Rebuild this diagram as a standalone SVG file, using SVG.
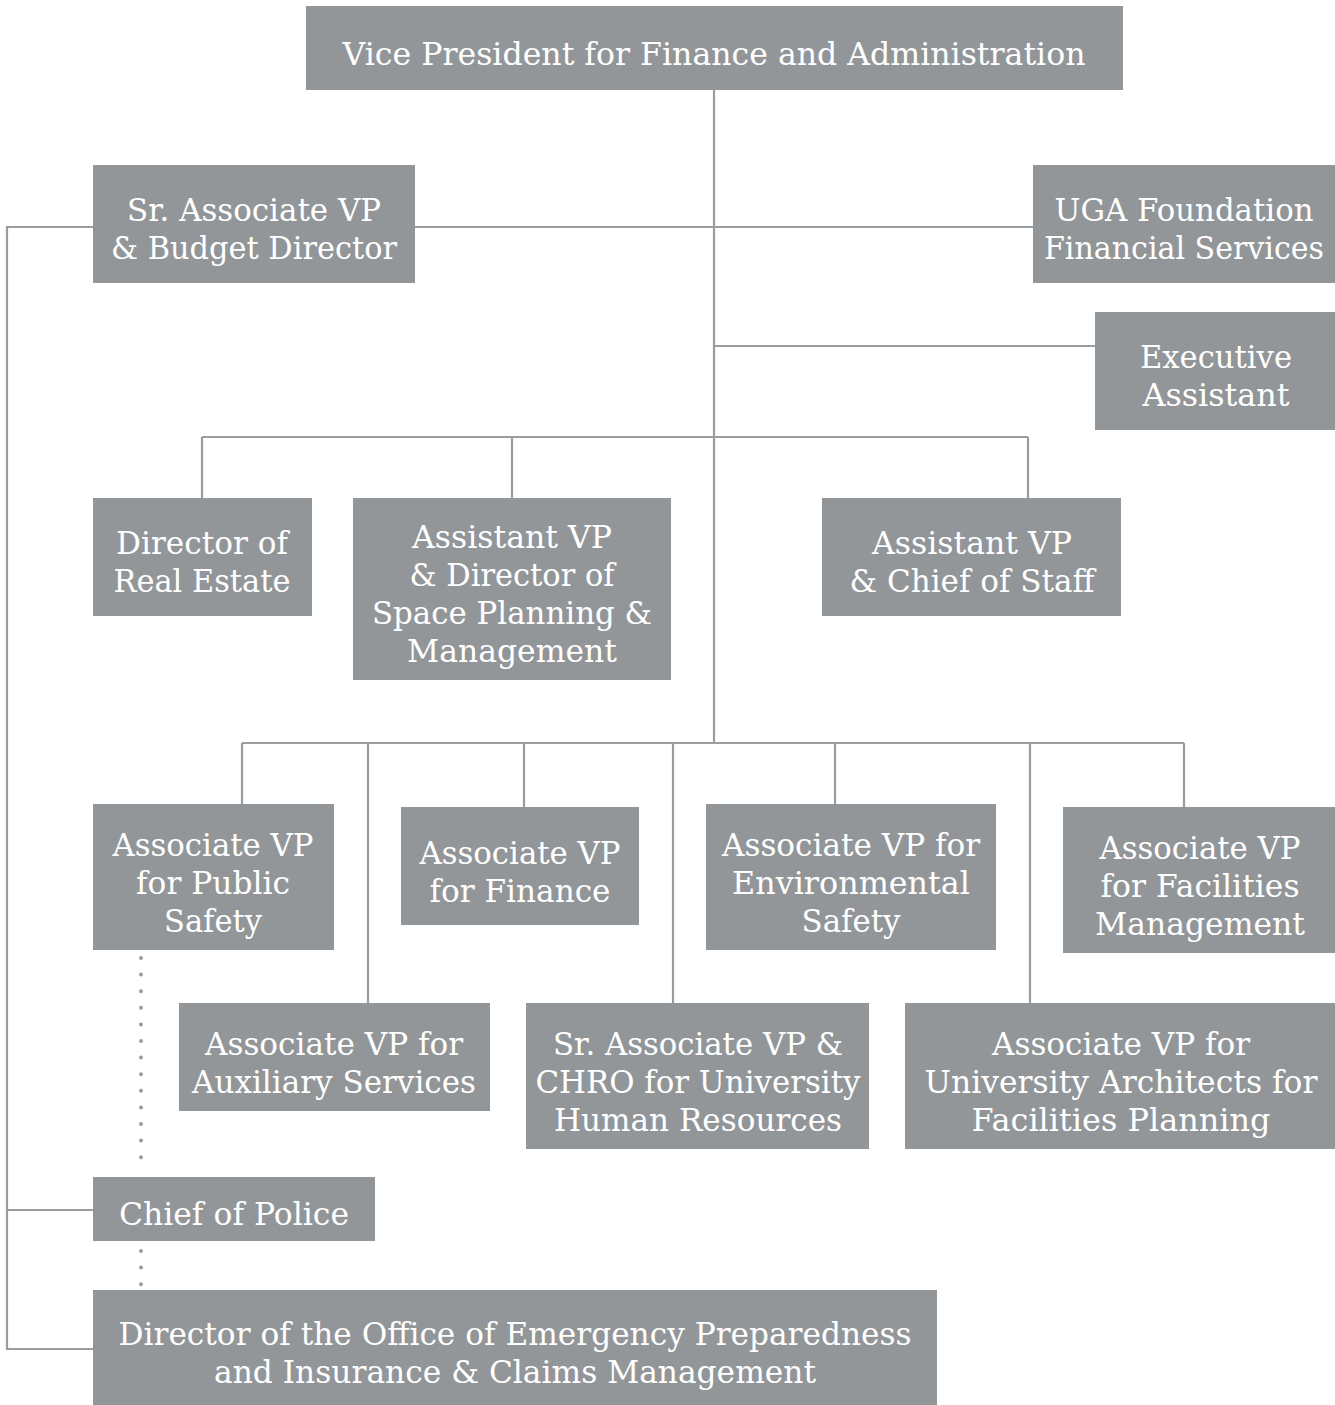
<svg xmlns="http://www.w3.org/2000/svg" width="1335" height="1405" viewBox="0 0 1335 1405">
<style>
.box{fill:#929699}
.t{font-family:"DejaVu Serif","Liberation Serif",serif;font-size:32px;fill:#ffffff;text-anchor:middle}
.ln{fill:none;stroke:#999da0;stroke-width:2.2}
.dot{fill:none;stroke:#999da0;stroke-width:4;stroke-linecap:round;stroke-dasharray:0 16.6}
</style>
<rect width="1335" height="1405" fill="#ffffff"/>
<g id="connectors">
<path class="ln" d="M714 90V743"/>
<path class="ln" d="M415 227H1033"/>
<path class="ln" d="M714 346H1095"/>
<path class="ln" d="M202 437H1028M202 437V498M512 437V498M1028 437V498"/>
<path class="ln" d="M242 743H1184M242 743V804M368 743V1003M524 743V807M673 743V1003M835 743V804M1030 743V1003M1184 743V807"/>
<path class="ln" d="M93 227H7V1349H93M7 1210H93"/>
<path class="dot" d="M141 958V1170"/>
<path class="dot" d="M141 1251V1285"/>
</g>
<g id="vp"><rect class="box" x="306" y="6" width="817" height="84"/>
<text class="t" x="714" y="65" textLength="743" lengthAdjust="spacingAndGlyphs">Vice President for Finance and Administration</text></g>
<g id="budget"><rect class="box" x="93" y="165" width="322" height="118"/>
<text class="t" x="254" y="221" textLength="254" lengthAdjust="spacingAndGlyphs">Sr. Associate VP</text>
<text class="t" x="254" y="259" textLength="286" lengthAdjust="spacingAndGlyphs">&amp; Budget Director</text></g>
<g id="uga"><rect class="box" x="1033" y="165" width="302" height="118"/>
<text class="t" x="1184" y="221" textLength="259" lengthAdjust="spacingAndGlyphs">UGA Foundation</text>
<text class="t" x="1184" y="259" textLength="280" lengthAdjust="spacingAndGlyphs">Financial Services</text></g>
<g id="exec"><rect class="box" x="1095" y="312" width="240" height="118"/>
<text class="t" x="1216" y="368" textLength="152" lengthAdjust="spacingAndGlyphs">Executive</text>
<text class="t" x="1216" y="406" textLength="147" lengthAdjust="spacingAndGlyphs">Assistant</text></g>
<g id="realestate"><rect class="box" x="93" y="498" width="219" height="118"/>
<text class="t" x="202" y="554" textLength="172" lengthAdjust="spacingAndGlyphs">Director of</text>
<text class="t" x="202" y="592" textLength="177" lengthAdjust="spacingAndGlyphs">Real Estate</text></g>
<g id="space"><rect class="box" x="353" y="498" width="318" height="182"/>
<text class="t" x="512" y="548" textLength="200" lengthAdjust="spacingAndGlyphs">Assistant VP</text>
<text class="t" x="512" y="586" textLength="205" lengthAdjust="spacingAndGlyphs">&amp; Director of</text>
<text class="t" x="512" y="624" textLength="280" lengthAdjust="spacingAndGlyphs">Space Planning &amp;</text>
<text class="t" x="512" y="662" textLength="210" lengthAdjust="spacingAndGlyphs">Management</text></g>
<g id="staff"><rect class="box" x="822" y="498" width="299" height="118"/>
<text class="t" x="972" y="554" textLength="200" lengthAdjust="spacingAndGlyphs">Assistant VP</text>
<text class="t" x="972" y="592" textLength="245" lengthAdjust="spacingAndGlyphs">&amp; Chief of Staff</text></g>
<g id="publicsafety"><rect class="box" x="93" y="804" width="241" height="146"/>
<text class="t" x="213" y="856" textLength="201" lengthAdjust="spacingAndGlyphs">Associate VP</text>
<text class="t" x="213" y="894" textLength="154" lengthAdjust="spacingAndGlyphs">for Public</text>
<text class="t" x="213" y="932" textLength="98" lengthAdjust="spacingAndGlyphs">Safety</text></g>
<g id="finance"><rect class="box" x="401" y="807" width="238" height="118"/>
<text class="t" x="520" y="864" textLength="201" lengthAdjust="spacingAndGlyphs">Associate VP</text>
<text class="t" x="520" y="902" textLength="181" lengthAdjust="spacingAndGlyphs">for Finance</text></g>
<g id="environmental"><rect class="box" x="706" y="804" width="290" height="146"/>
<text class="t" x="851" y="856" textLength="258" lengthAdjust="spacingAndGlyphs">Associate VP for</text>
<text class="t" x="851" y="894" textLength="238" lengthAdjust="spacingAndGlyphs">Environmental</text>
<text class="t" x="851" y="932" textLength="99" lengthAdjust="spacingAndGlyphs">Safety</text></g>
<g id="facilities"><rect class="box" x="1063" y="807" width="272" height="146"/>
<text class="t" x="1200" y="859" textLength="201" lengthAdjust="spacingAndGlyphs">Associate VP</text>
<text class="t" x="1200" y="897" textLength="199" lengthAdjust="spacingAndGlyphs">for Facilities</text>
<text class="t" x="1200" y="935" textLength="210" lengthAdjust="spacingAndGlyphs">Management</text></g>
<g id="auxiliary"><rect class="box" x="179" y="1003" width="311" height="108"/>
<text class="t" x="334" y="1055" textLength="258" lengthAdjust="spacingAndGlyphs">Associate VP for</text>
<text class="t" x="334" y="1093" textLength="284" lengthAdjust="spacingAndGlyphs">Auxiliary Services</text></g>
<g id="chro"><rect class="box" x="526" y="1003" width="343" height="146"/>
<text class="t" x="698" y="1055" textLength="290" lengthAdjust="spacingAndGlyphs">Sr. Associate VP &amp;</text>
<text class="t" x="698" y="1093" textLength="325" lengthAdjust="spacingAndGlyphs">CHRO for University</text>
<text class="t" x="698" y="1131" textLength="288" lengthAdjust="spacingAndGlyphs">Human Resources</text></g>
<g id="architects"><rect class="box" x="905" y="1003" width="430" height="146"/>
<text class="t" x="1121" y="1055" textLength="258" lengthAdjust="spacingAndGlyphs">Associate VP for</text>
<text class="t" x="1121" y="1093" textLength="393" lengthAdjust="spacingAndGlyphs">University Architects for</text>
<text class="t" x="1121" y="1131" textLength="299" lengthAdjust="spacingAndGlyphs">Facilities Planning</text></g>
<g id="police"><rect class="box" x="93" y="1177" width="282" height="64"/>
<text class="t" x="234" y="1225" textLength="230" lengthAdjust="spacingAndGlyphs">Chief of Police</text></g>
<g id="emergency"><rect class="box" x="93" y="1290" width="844" height="115"/>
<text class="t" x="515" y="1345" textLength="793" lengthAdjust="spacingAndGlyphs">Director of the Office of Emergency Preparedness</text>
<text class="t" x="515" y="1383" textLength="602" lengthAdjust="spacingAndGlyphs">and Insurance &amp; Claims Management</text></g>
</svg>
